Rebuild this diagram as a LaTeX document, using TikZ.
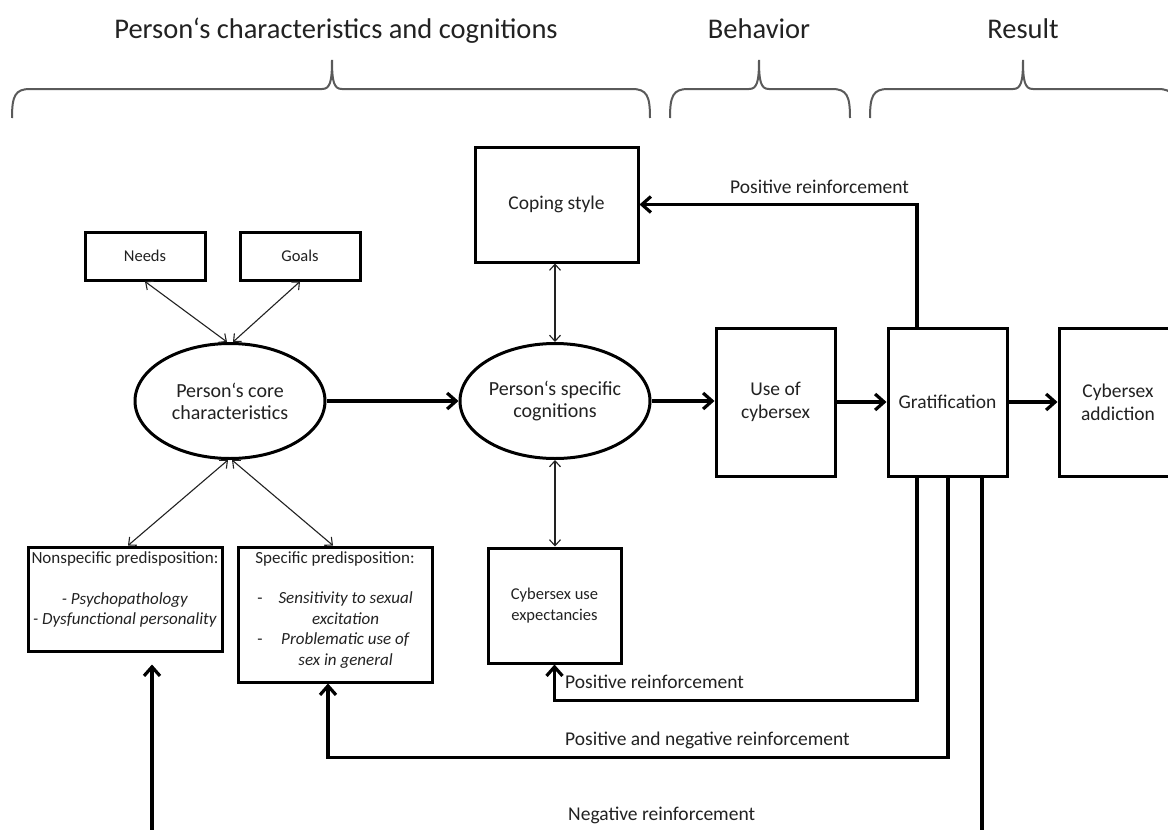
\documentclass[tikz,border=0pt]{standalone}
\usepackage{fontspec}
\setmainfont{Carlito}
\usetikzlibrary{arrows.meta,shapes.geometric,calc}
\newcommand{\fsz}[2]{\fontsize{#1}{#2}\selectfont}
\definecolor{txt}{HTML}{222222}
\definecolor{brc}{HTML}{5A5A5A}
\begin{document}
\begin{tikzpicture}[x=1pt,y=-1pt,
  box/.style={draw,line width=3pt,rectangle,inner sep=0pt,align=center,text=txt,font=\fsz{19.5}{23}},
  oval/.style={draw,line width=3pt,ellipse,inner sep=0pt,align=center,text=txt,font=\fsz{20}{22}},
  inner/.style={inner sep=0pt,align=center,text=txt,font=\fsz{17}{20.5}},
  lbl/.style={inner sep=0pt,text=txt,font=\fsz{19.5}{23}},
  ttl/.style={inner sep=0pt,text=txt,font=\fsz{28.5}{34}},
  brace/.style={draw=brc,line width=2pt},
  thinarr/.style={draw=txt,line width=1.1pt,{Straight Barb[length=6pt,width=11pt]}-{Straight Barb[length=6pt,width=11pt]}},
  thickarr/.style={line width=3.2pt,-{Straight Barb[length=9pt,width=16pt]}},
  thickline/.style={line width=3.2pt}]
\clip (0,0) rectangle (1168,830);
\fill[white] (0,0) rectangle (1168,830);

% titles
\node[ttl,anchor=base] (t1) at (336,38) {Person‘s characteristics and cognitions};
\node[ttl,anchor=base] (t2) at (759,38) {Behavior};
\node[ttl,anchor=base] (t3) at (1023,38) {Result};

% braces
\draw[brace] (12,118) .. controls (12,96) and (15,89) .. (30,89) -- (322,89)
  .. controls (330,89) and (332,82) .. (332,60) .. controls (332,82) and (334,89) .. (342,89)
  -- (632,89) .. controls (647,89) and (650,96) .. (650,118);
\draw[brace] (670,118) .. controls (670,96) and (673,89) .. (688,89) -- (749,89)
  .. controls (757,89) and (759,82) .. (759,60) .. controls (759,82) and (761,89) .. (769,89)
  -- (832,89) .. controls (847,89) and (850,96) .. (850,118);
\draw[brace] (870,118) .. controls (870,96) and (873,89) .. (888,89) -- (1013,89)
  .. controls (1021,89) and (1023,82) .. (1023,60) .. controls (1023,82) and (1025,89) .. (1033,89)
  -- (1158,89) .. controls (1173,89) and (1176,96) .. (1176,118);

% nodes
\node[box,minimum width=120,minimum height=48,font=\fsz{16.5}{20}] (needs) at (145,256) {Needs};
\node[box,minimum width=120,minimum height=48,font=\fsz{16.5}{20}] (goals) at (300,256) {Goals};
\node[oval,minimum width=190,minimum height=115] (core) at (230,401) {Person‘s core\\characteristics};
\node[oval,minimum width=190,minimum height=115] (spec) at (555,401) {Person‘s specific\\cognitions};
\node[box,minimum width=163,minimum height=115] (coping) at (556.5,204.5) {Coping style};
\node[box,minimum width=119,minimum height=148] (use) at (775.5,402) {Use of\\cybersex};
\node[box,minimum width=119,minimum height=148] (grat) at (947.5,402) {Gratification};
\node[box,minimum width=118,minimum height=148] (addict) at (1118,402) {Cybersex\\addiction};
\node[box,minimum width=133,minimum height=115,font=\fsz{16.5}{20.5}] (expect) at (554.5,605.5) {Cybersex use\\expectancies};
\node[box,minimum width=194,minimum height=104] (nonspec) at (125,599) {};
\node[box,minimum width=194,minimum height=135] (specbox) at (335,614.5) {};
\node[inner,anchor=north] (nonspectxt) at (125,551) {Nonspecific predisposition:\\[20.5pt]\textit{- Psychopathology}\\\textit{- Dysfunctional personality}};
\node[inner,anchor=north] (specboxtxt) at (335,551) {Specific predisposition:\\[20pt]\begin{tabular}[t]{@{}c@{\hspace{16pt}}c@{}}-&\textit{Sensitivity to sexual}\\&\textit{excitation}\\-&\textit{Problematic use of}\\&\textit{sex in general}\end{tabular}};

% thin double arrows
\draw[thinarr] (needs.south) -- ([xshift=-3pt]core.north);
\draw[thinarr] (goals.south) -- ([xshift=3pt]core.north);
\draw[thinarr] ([xshift=-2pt]core.south) -- ([xshift=3pt]nonspec.north);
\draw[thinarr] ([xshift=2pt]core.south) -- ([xshift=-2pt]specbox.north);
\draw[thinarr] (spec.north |- coping.south) -- (spec.north);
\draw[thinarr] (spec.south) -- (spec.south |- expect.north);

% thick arrows
\draw[thickarr] (core.east) -- (spec.west);
\draw[thickarr] (spec.east) -- (spec.east -| use.west);
\draw[thickarr] (use.east) -- (grat.west);
\draw[thickarr] (grat.east) -- (addict.west);
\draw[thickarr] ([xshift=-30.5pt]grat.north) |- (coping.east);
\draw[thickarr] ([xshift=-30.5pt]grat.south) -- ++(0,223) -| (expect.south);
\draw[thickarr] ([xshift=0.5pt]grat.south) -- ++(0,280) -| ([xshift=-7pt]specbox.south);
\draw[thickline] ([xshift=34.5pt]grat.south) -- ++(0,370);
\coordinate (bot) at (152,840);
\draw[thickarr] (bot) -- ([yshift=-12pt]nonspec.south -| bot);

% labels
\node[lbl,anchor=base west] (lab1) at (730,193) {Positive reinforcement};
\node[lbl,anchor=base west] (lab2) at (565,688) {Positive reinforcement};
\node[lbl,anchor=base west] (lab3) at (565,745) {Positive and negative reinforcement};
\node[lbl,anchor=base west] (lab4) at (568,820) {Negative reinforcement};
\end{tikzpicture}
\end{document}
